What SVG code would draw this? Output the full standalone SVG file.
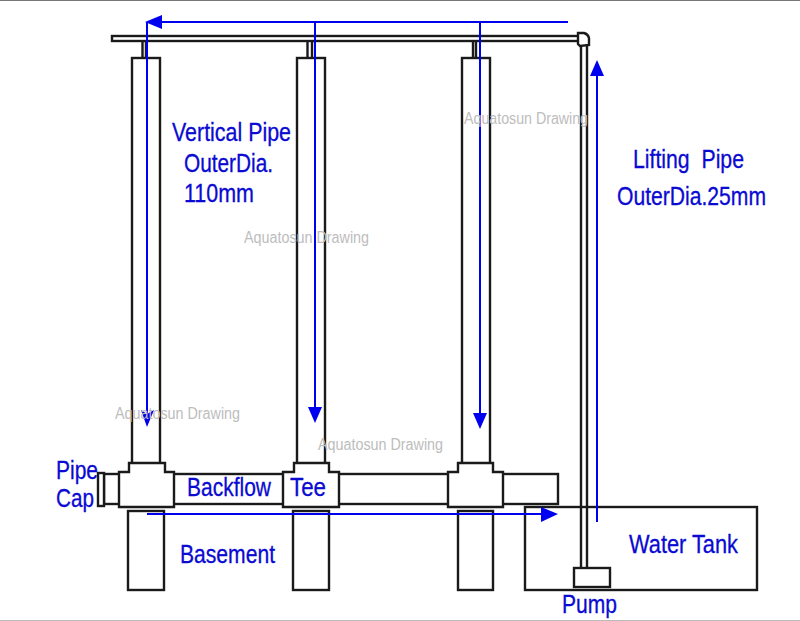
<svg xmlns="http://www.w3.org/2000/svg" width="800" height="621" viewBox="0 0 800 621">
<style>
.p{fill:#fff;stroke:#1a1a1a;stroke-width:2.400}
.n{fill:none;stroke:#1a1a1a;stroke-width:2.400}
.f{fill:none;stroke:#0000f0;stroke-width:2}
.h{fill:#0000f0;stroke:none}
text{font-family:"Liberation Sans",Arial,sans-serif}
.l{font-size:25px;fill:#0a0ad2;stroke:#0a0ad2;stroke-width:.3}
.w{font-size:16px;fill:#bdbdbd}
</style>
<rect width="800" height="621" fill="#fff"/>
<rect x="0" y="0" width="800" height="1" fill="#777"/>
<rect x="0" y="620" width="800" height="1" fill="#bbb"/>
<g id="top-pipe">
<rect class="p" x="112" y="36" width="467" height="5"/>
<path class="p" d="M578 33H584Q588 34 589 38V45L580 46L578 44Z"/>
</g>
<g id="lifting-pipe"><path class="n" d="M581 46V568M587 45V568"/></g>
<g id="vertical-pipe-1">
<path class="n" d="M142.500 41V58M146 41V58"/>
<rect class="p" x="132" y="58" width="28" height="406"/>
</g>
<g id="vertical-pipe-2">
<path class="n" d="M307.500 41V58M312 41V58"/>
<rect class="p" x="297" y="58" width="28" height="406"/>
</g>
<g id="vertical-pipe-3">
<path class="n" d="M473 41V58M476 41V58"/>
<rect class="p" x="462" y="58" width="28" height="406"/>
</g>
<g id="horizontal-pipe"><rect class="p" x="104" y="474" width="454" height="30"/></g>
<g id="pipe-cap"><rect class="p" x="98" y="473" width="6" height="33"/></g>
<g id="tee-1"><path class="p" d="M119 472H129V463H165V472H174V507H119Z"/></g>
<g id="tee-2"><path class="p" d="M283 472H294V463H329V472H339V507H283Z"/></g>
<g id="tee-3"><path class="p" d="M448 472H458V463H493V472H503V507H448Z"/></g>
<g id="water-tank"><rect class="n" x="525" y="507" width="232" height="83"/></g>
<g id="basement-1"><rect class="p" x="128" y="511" width="36" height="79"/></g>
<g id="basement-2"><rect class="p" x="293" y="511" width="36" height="79"/></g>
<g id="basement-3"><rect class="p" x="458" y="511" width="35" height="79"/></g>
<g id="pump"><rect class="p" x="574" y="568" width="36" height="19"/></g>
<g id="connectors">
<path class="f" d="M568 22H150"/><polygon class="h" points="145,22 162,15 162,29"/>
<path class="f" d="M147 22V418"/><polygon class="h" points="147,427 141,410 147,414 154,410"/>
<path class="f" d="M315 22V412"/><polygon class="h" points="315,423 308,407 322,407"/>
<path class="f" d="M480 22V416"/><polygon class="h" points="480,429 473,413 487,413"/>
<path class="f" d="M597 522V70"/><polygon class="h" points="597,60 590,76 604,76"/>
<path class="f" d="M147 514H545"/><polygon class="h" points="558,514 541,507 541,522"/>
</g>
<g id="watermarks">
<text class="w" x="464" y="124" textLength="124" lengthAdjust="spacingAndGlyphs">Aquatosun Drawing</text>
<text class="w" x="244" y="243" textLength="125" lengthAdjust="spacingAndGlyphs">Aquatosun Drawing</text>
<text class="w" x="115" y="419" textLength="125" lengthAdjust="spacingAndGlyphs">Aquatosun Drawing</text>
<text class="w" x="318" y="450" textLength="125" lengthAdjust="spacingAndGlyphs">Aquatosun Drawing</text>
</g>
<g id="labels">
<text class="l" x="172" y="141" textLength="119" lengthAdjust="spacingAndGlyphs">Vertical Pipe</text>
<text class="l" x="184" y="172" textLength="89" lengthAdjust="spacingAndGlyphs">OuterDia.</text>
<text class="l" x="184" y="202" textLength="70" lengthAdjust="spacingAndGlyphs">110mm</text>
<text class="l" x="633" y="168" textLength="111" lengthAdjust="spacingAndGlyphs" xml:space="preserve">Lifting  Pipe</text>
<text class="l" x="617" y="205" textLength="149" lengthAdjust="spacingAndGlyphs">OuterDia.25mm</text>
<text class="l" x="56" y="479" textLength="42" lengthAdjust="spacingAndGlyphs">Pipe</text>
<text class="l" x="56" y="507" textLength="38" lengthAdjust="spacingAndGlyphs">Cap</text>
<text class="l" x="187" y="496" textLength="84" lengthAdjust="spacingAndGlyphs">Backflow</text>
<text class="l" x="290" y="496" textLength="36" lengthAdjust="spacingAndGlyphs">Tee</text>
<text class="l" x="180" y="563" textLength="95" lengthAdjust="spacingAndGlyphs">Basement</text>
<text class="l" x="629" y="553" textLength="109" lengthAdjust="spacingAndGlyphs">Water Tank</text>
<text class="l" x="562" y="613" textLength="55" lengthAdjust="spacingAndGlyphs">Pump</text>
</g>
</svg>
